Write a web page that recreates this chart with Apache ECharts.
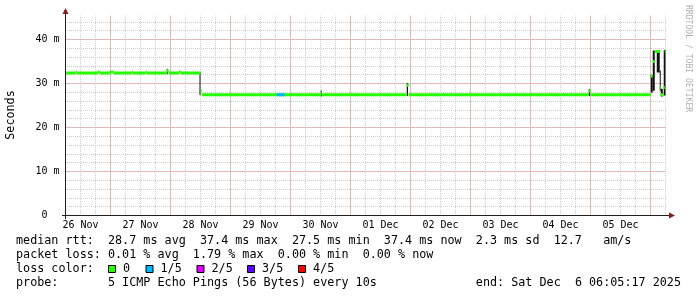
<!DOCTYPE html>
<html>
<head>
<meta charset="utf-8">
<script src="https://cdn.jsdelivr.net/npm/echarts@6/dist/echarts.min.js"></script>
<style>
html,body{margin:0;padding:0;background:#ffffff;}
#c{width:697px;height:297px;}
</style>
</head>
<body>
<div id="c"></div>
<script>
// ---------------- data (hours since 26 Nov 00:00, values in ms) ----------------
const dayLabels = ['26 Nov','27 Nov','28 Nov','29 Nov','30 Nov','01 Dec','02 Dec','03 Dec','04 Dec','05 Dec'];
const dayBoundaryHours = [24, 48, 72, 96, 120, 144, 168, 192, 216, 240];
const yTickMs = [0, 10, 20, 30, 40];

// median rtt, step segments: value medianMs[i] holds from medianHours[i] to medianHours[i+1]
const medianHours = [6.0, 10.1, 10.5, 18.9, 19.7, 23.7, 25.3, 32.5, 32.9, 38.1, 38.5, 46.5, 47.3, 51.3, 52.1,
                     60.0, 60.5, 108.1, 108.5, 142.5, 143.3, 215.3, 216.1,
                     240.1, 240.9, 241.7, 243.7, 244.1, 245.3, 245.7];
const medianMs    = [32.4, 32.6, 32.4, 32.6, 32.4, 32.6, 32.4, 32.6, 32.4, 32.6, 32.4, 32.9, 32.4, 32.6, 32.4,
                     28.3, 27.45, 27.8, 27.45, 29.6, 27.45, 28.3, 27.45,
                     31.7, 35.0, 37.3, 29.1, 27.45, 29.1, 37.4];
const endHour = 246.0;

// stretch with 1/5 packet loss
const loss1From = [90.5];
const loss1To   = [93.7];
const loss1Ms   = [27.45];

// smoke (spread of the pings)
const smokeFrom = [46.5, 59.6, 108.1, 142.5, 215.3, 240.1, 240.9, 242.5, 243.7, 244.1, 245.3];
const smokeTo   = [46.9, 60.0, 108.5, 143.0, 215.8, 240.9, 241.7, 243.7, 244.1, 244.9, 246.0];
const smokeLow  = [32.4, 27.6, 27.3, 27.4, 27.4, 28.2, 28.6, 32.7, 28.6, 27.3, 27.5];
const smokeHigh = [33.1, 32.4, 28.2, 29.9, 28.5, 31.7, 37.3, 37.2, 32.7, 28.6, 37.4];

// legend
const lossLabels = ['0', '1/5', '2/5', '3/5', '4/5'];
const lossColors = ['#26ff00', '#00b8ff', '#dd00ff', '#5e00ff', '#ff0000'];
const legendRow1 = 'median rtt:  28.7 ms avg  37.4 ms max  27.5 ms min  37.4 ms now  2.3 ms sd  12.7   am/s';
const legendRow2 = 'packet loss: 0.01 % avg  1.79 % max  0.00 % min  0.00 % now';
const legendRow3 = 'loss color:';
const legendRow4 = 'probe:       5 ICMP Echo Pings (56 Bytes) every 10s';
const endText = 'end: Sat Dec  6 06:05:17 2025';
const yTitle = 'Seconds';
const watermark = 'RRDTOOL / TOBI OETIKER';

// ---------------- chart ----------------
const MONO = '"DejaVu Sans Mono", monospace';
const LEG_FONT = '11.75px "DejaVu Sans Mono", monospace';
const chart = echarts.init(document.getElementById('c'), null, {renderer: 'canvas', width: 697, height: 297});

const medianData = medianHours.map((h, i) => [h, i + 1 < medianHours.length ? medianHours[i + 1] : endHour, medianMs[i]]);
const lossData = loss1From.map((h, i) => [h, loss1To[i], loss1Ms[i]]);
const smokeData = smokeFrom.map((h, i) => [h, smokeTo[i], smokeLow[i], smokeHigh[i]]);
const vMajorData = dayBoundaryHours.map(h => [h, 0]);
const hMajorData = yTickMs.filter(v => v > 0).map(v => [6, v]);

function segRender(color) {
  return function (params, api) {
    const p1 = api.coord([api.value(0), api.value(2)]);
    const p2 = api.coord([api.value(1), api.value(2)]);
    return {type: 'rect', shape: {x: p1[0], y: p1[1] - 1.5, width: Math.max(1, p2[0] - p1[0]), height: 3},
            style: {fill: color}};
  };
}
function smokeRender(params, api) {
  const a = api.coord([api.value(0), api.value(3)]);
  const b = api.coord([api.value(1), api.value(2)]);
  return {type: 'rect', shape: {x: a[0], y: a[1] - 1, width: Math.max(1, b[0] - a[0]), height: b[1] - a[1] + 2},
          style: {fill: '#111111'}};
}
const GRID_C = '#cdcdcd', MGRID_C = '#f0a8a8';
const AX = '#1f1f1f', ARROW = '#801f1f';
function vMajorRender(params, api) {
  const cs = params.coordSys;
  const x = Math.floor(api.coord([api.value(0), 0])[0]) + 0.5;
  return {type: 'line', shape: {x1: x, y1: Math.round(cs.y), x2: x, y2: Math.round(cs.y + cs.height)},
          style: {stroke: MGRID_C, lineWidth: 1, lineDash: [1, 1]}};
}
function hMajorRender(params, api) {
  const cs = params.coordSys;
  const y = Math.floor(api.coord([6, api.value(1)])[1]) + 0.5;
  return {type: 'line', shape: {x1: Math.round(cs.x), y1: y, x2: Math.round(cs.x + cs.width), y2: y},
          style: {stroke: MGRID_C, lineWidth: 1, lineDash: [1, 1]}};
}

const graphics = [
  {type: 'line', shape: {x1: 62, y1: 215.5, x2: 670, y2: 215.5}, style: {stroke: AX, lineWidth: 1}, z: 50},
  {type: 'line', shape: {x1: 65.5, y1: 219, x2: 65.5, y2: 12}, style: {stroke: AX, lineWidth: 1}, z: 50},
  {type: 'polygon', shape: {points: [[669, 212.5], [675, 215.5], [669, 218.5]]}, style: {fill: ARROW}, z: 51},
  {type: 'polygon', shape: {points: [[62.5, 14], [65.5, 8], [68.5, 14]]}, style: {fill: ARROW}, z: 51},
  {type: 'text', x: 11, y: 115, rotation: Math.PI / 2,
   style: {text: yTitle, font: LEG_FONT, fill: '#000', align: 'center', verticalAlign: 'middle', textAlign: 'center', textVerticalAlign: 'middle'}},
  {type: 'text', x: 688, y: 5, rotation: -Math.PI / 2,
   style: {text: watermark, font: '8.1px "DejaVu Sans Mono", monospace', fill: '#b0b0b0', align: 'left', verticalAlign: 'middle', textAlign: 'left', textVerticalAlign: 'middle'}},
];
const rows = [[legendRow1, 241], [legendRow2, 255], [legendRow3, 269], [legendRow4, 283]];
rows.forEach(r => graphics.push({type: 'text', x: 16, y: r[1],
  style: {text: r[0], font: LEG_FONT, fill: '#000', align: 'left', verticalAlign: 'middle', textAlign: 'left', textVerticalAlign: 'middle'}}));
graphics.push({type: 'text', x: 681, y: 283,
  style: {text: endText, font: LEG_FONT, fill: '#000', align: 'right', verticalAlign: 'middle', textAlign: 'right', textVerticalAlign: 'middle'}});
const boxX = [108.5, 146, 197, 247.5, 298.5];
const lblX = [123, 160.5, 211.5, 262, 313];
lossLabels.forEach((t, i) => {
  graphics.push({type: 'rect', shape: {x: boxX[i], y: 265.5, width: 7, height: 7},
                 style: {fill: lossColors[i], stroke: '#000', lineWidth: 1}});
  graphics.push({type: 'text', x: lblX[i], y: 269,
                 style: {text: t, font: LEG_FONT, fill: '#000', align: 'left', verticalAlign: 'middle', textAlign: 'left', textVerticalAlign: 'middle'}});
});

const option = {
  animation: false,
  backgroundColor: '#ffffff',
  grid: {left: 65.5, top: 15.5, width: 600, height: 200, containLabel: false, outerBoundsMode: 'none'},
  xAxis: {
    type: 'value', min: 6, max: 246, interval: 6,
    axisLine: {show: false}, axisTick: {show: false},
    axisLabel: {
      margin: 5, color: '#000', fontFamily: MONO, fontSize: 10, hideOverlap: false,
      formatter: function (v) {
        const k = (v - 12) / 24;
        return (Number.isInteger(k) && k >= 0 && k < dayLabels.length) ? dayLabels[k] : '';
      }
    },
    splitLine: {show: true, lineStyle: {color: GRID_C, type: [1, 1], dashOffset: 0.5, width: 1}}
  },
  yAxis: {
    type: 'value', min: 0, max: 200 / 4.4, interval: 2,
    axisLine: {show: false}, axisTick: {show: false},
    axisLabel: {
      margin: 6, color: '#000', fontFamily: MONO, fontSize: 10, hideOverlap: false,
      formatter: function (v) {
        if (yTickMs.indexOf(v) < 0) return '';
        return v === 0 ? '0  ' : v + ' m';
      }
    },
    splitLine: {show: true, showMaxLine: false, lineStyle: {color: GRID_C, type: [1, 1], dashOffset: 0.5, width: 1}}
  },
  series: [
    {type: 'custom', name: 'vmajor', renderItem: vMajorRender, data: vMajorData, encode: {x: 0, y: 1}, clip: false, silent: true, z: 1},
    {type: 'custom', name: 'hmajor', renderItem: hMajorRender, data: hMajorData, encode: {x: 0, y: 1}, clip: false, silent: true, z: 1},
    {type: 'custom', name: 'smoke', renderItem: smokeRender, data: smokeData, encode: {x: [0, 1], y: [2, 3]}, clip: true, silent: true, z: 3},
    {type: 'custom', name: 'median', renderItem: segRender('#26ff00'), data: medianData, encode: {x: [0, 1], y: 2}, clip: true, silent: true, z: 4},
    {type: 'custom', name: 'loss1', renderItem: segRender('#00b8ff'), data: lossData, encode: {x: [0, 1], y: 2}, clip: true, silent: true, z: 5}
  ],
  graphic: graphics
};
chart.setOption(option);
</script>
</body>
</html>
